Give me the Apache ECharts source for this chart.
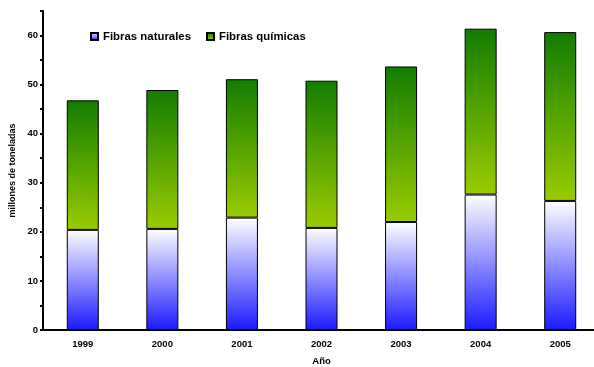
<!DOCTYPE html>
<html lang="es">
<head>
    <meta charset="UTF-8">
    <title>Fibras</title>
    <style>
        * { margin: 0; padding: 0; }
        body { background: #fff; }
        #chart { width: 594px; height: 367px; }
    </style>
</head>
<body>
    <div id="chart"></div>
    <script src="https://cdn.jsdelivr.net/npm/echarts@6/dist/echarts.min.js"></script>
    <script>
        var years = ['1999', '2000', '2001', '2002', '2003', '2004', '2005'];
        var naturales = [20.4, 20.6, 22.9, 20.8, 22.0, 27.6, 26.3];
        var quimicas = [26.4, 28.3, 28.2, 30.0, 31.7, 33.8, 34.4];

        var font = 'Liberation Sans, Arial, sans-serif';
        var chart = echarts.init(document.getElementById('chart'));

        function grad(top, bottom) {
            return new echarts.graphic.LinearGradient(0, 0, 0, 1, [
                { offset: 0, color: top },
                { offset: 1, color: bottom }
            ]);
        }

        var option = {
            animation: false,
            backgroundColor: '#fff',
            textStyle: { fontFamily: font },
            grid: { left: 43, top: 11, bottom: 37, width: 557, outerBoundsMode: 'none' },
            legend: {
                left: 90, top: 31, padding: 0,
                itemWidth: 7, itemHeight: 7, itemGap: 15,
                icon: 'rect',
                textStyle: { fontSize: 11.4, fontWeight: 'bold', color: '#000', fontFamily: font },
                data: ['Fibras naturales', 'Fibras químicas']
            },
            xAxis: [{
                type: 'category',
                data: years,
                name: 'Año',
                nameLocation: 'middle',
                nameGap: 26,
                nameTextStyle: { fontSize: 9.5, fontWeight: 'bold', color: '#000' },
                axisLine: { lineStyle: { color: '#000', width: 2 } },
                axisTick: { length: 3, lineStyle: { color: '#000', width: 2 } },
                axisLabel: { fontSize: 9.5, fontWeight: 'bold', color: '#000', margin: 9 },
                splitLine: { show: false }
            }, {
                type: 'category',
                data: years,
                position: 'bottom',
                axisLine: { show: false },
                axisTick: { alignWithLabel: true, length: 3, lineStyle: { color: '#000', width: 2 } },
                axisLabel: { show: false },
                splitLine: { show: false }
            }],
            yAxis: {
                type: 'value',
                min: 0, max: 65, interval: 5,
                name: 'millones de toneladas',
                nameLocation: 'middle',
                nameGap: 26,
                nameTextStyle: { fontSize: 9, fontWeight: 'bold', color: '#000' },
                axisLine: { show: true, lineStyle: { color: '#000', width: 2 } },
                axisTick: { show: true, length: 3, lineStyle: { color: '#000', width: 2 } },
                axisLabel: {
                    fontSize: 9.5, fontWeight: 'bold', color: '#000', margin: 5,
                    formatter: function (v) { return v % 10 === 0 ? v : ''; }
                },
                splitLine: { show: false }
            },
            series: [{
                name: 'Fibras naturales',
                type: 'bar',
                stack: 'total',
                barWidth: 32,
                data: naturales,
                itemStyle: { color: grad('#ffffff', '#1a1aff'), borderColor: '#000', borderWidth: 1 }
            }, {
                name: 'Fibras químicas',
                type: 'bar',
                stack: 'total',
                barWidth: 32,
                data: quimicas,
                itemStyle: { color: grad('#137c00', '#99cc00'), borderColor: '#000', borderWidth: 1 }
            }]
        };
        chart.setOption(option);
    </script>
</body>
</html>
